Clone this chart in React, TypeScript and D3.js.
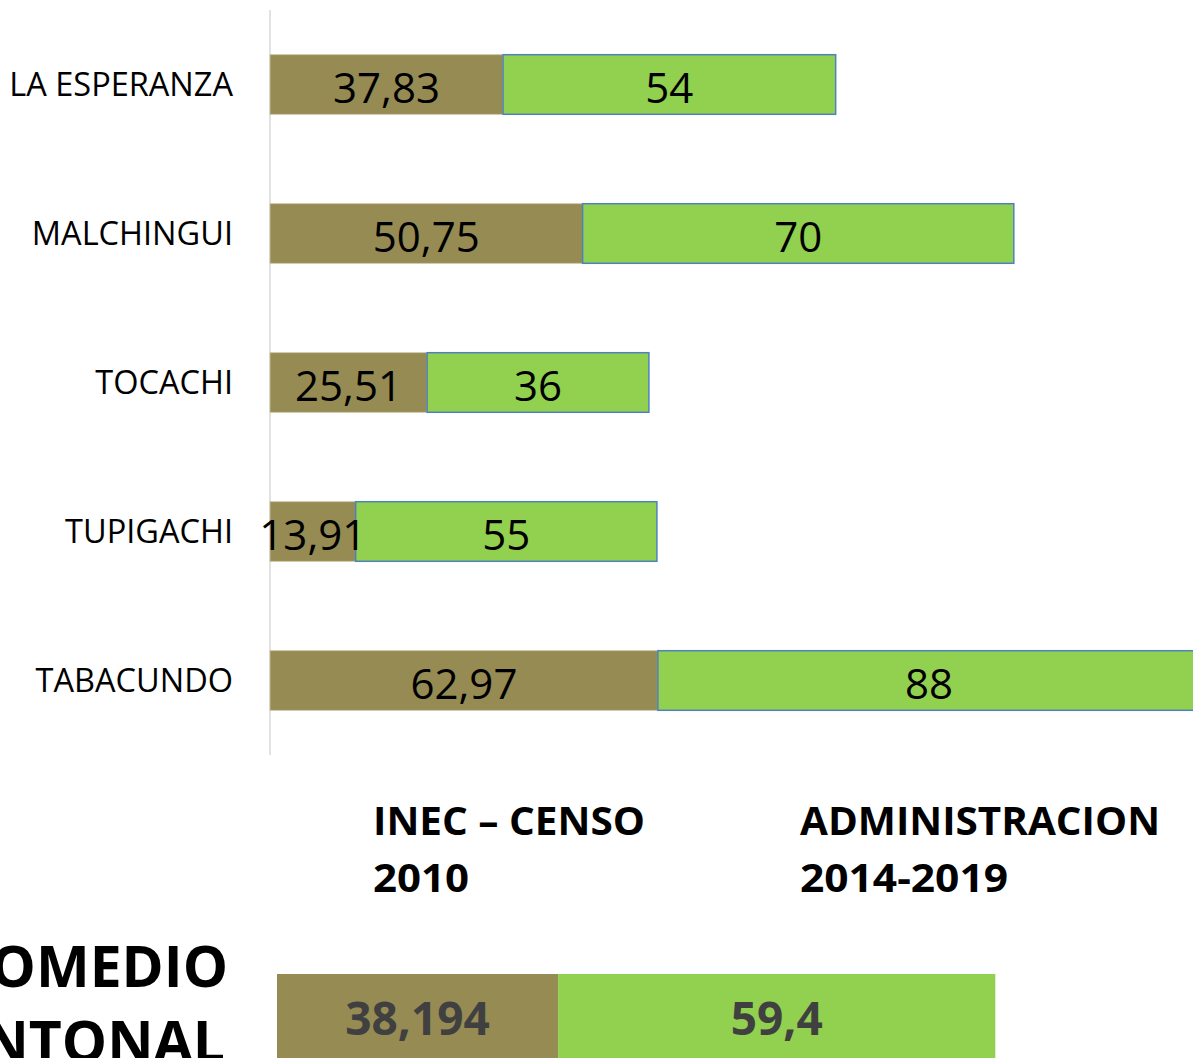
import React from 'react';
import * as d3 from 'd3';

// parroquias y valores
const categories = ['LA ESPERANZA', 'MALCHINGUI', 'TOCACHI', 'TUPIGACHI', 'TABACUNDO'];
const censo2010 = [37.83, 50.75, 25.51, 13.91, 62.97];
const admin2019 = [54, 70, 36, 48.9, 88];
const adminLabels = ['54', '70', '36', '55', '88'];
const seriesNames = [['INEC – CENSO', '2010'], ['ADMINISTRACION', '2014-2019']];
const promedio = [38.194, 59.4];
const promedioTitle = ['PROMEDIO', 'CANTONAL'];

const W = 1193;
const H = 1058;
const BROWN = '#958B53';
const GREEN = '#92D050';
const FONT = '"Open Sans", "Noto Sans", sans-serif';

const fmt = (v: number) => String(v).replace('.', ',');

export default function App() {
    const x = d3.scaleLinear().domain([0, 100]).range([270, 886]);
    const y = d3.scaleBand<string>().domain(categories).range([10, 755]).paddingInner(0.6).paddingOuter(0.3);
    const bw = y.bandwidth();

    // barra del promedio, otra escala
    const x2 = d3.scaleLinear().domain([0, 100]).range([277, 1013]);
    const pTop = 974;

    return (
        <svg
            width={W}
            height={H}
            style={{ position: 'absolute', left: 0, top: 0, background: '#fff', fontFamily: FONT }}
        >
            <line x1={270} x2={270} y1={10} y2={755} stroke="#d9d9d9" strokeWidth={1.5} />

            {categories.map((c, i) => {
                const yy = y(c) as number;
                const cy = yy + bw / 2;
                const x0 = x(0);
                const x1 = x(censo2010[i]);
                const x2e = x(censo2010[i] + admin2019[i]);
                return (
                    <g key={c}>
                        <text x={233} y={cy} dy="0.36em" textAnchor="end" fontSize={32.5} fill="#000">
                            {c}
                        </text>
                        <rect x={x0} y={yy} width={x1 - x0} height={bw} fill={BROWN} stroke="#c9c3a2" strokeWidth={0.8} />
                        <rect x={x1} y={yy} width={x2e - x1} height={bw} fill={GREEN} stroke="#4F81BD" strokeWidth={1.5} />
                        <text x={(x0 + x1) / 2} y={cy} dy="0.44em" textAnchor="middle" fontSize={42} fill="#000">
                            {fmt(censo2010[i])}
                        </text>
                        <text x={(x1 + x2e) / 2} y={cy} dy="0.44em" textAnchor="middle" fontSize={42} fill="#000">
                            {adminLabels[i]}
                        </text>
                    </g>
                );
            })}

            {/* leyenda */}
            {seriesNames.map((s, i) => (
                <g key={s[0]} fontWeight="bold" fontSize={40} fill="#000">
                    <text x={i === 0 ? 373 : 800} y={835} textLength={i === 0 ? 272 : 360} lengthAdjust="spacingAndGlyphs">
                        {s[0]}
                    </text>
                    <text x={i === 0 ? 373 : 800} y={892} textLength={i === 0 ? 96 : 208} lengthAdjust="spacingAndGlyphs">
                        {s[1]}
                    </text>
                </g>
            ))}

            <text x={228} y={987} textAnchor="end" fontWeight="bold" fontSize={57} fill="#000">
                {promedioTitle[0]}
            </text>
            <text x={225} y={1062} textAnchor="end" fontWeight="bold" fontSize={57} fill="#000">
                {promedioTitle[1]}
            </text>

            <rect x={x2(0)} y={pTop} width={x2(promedio[0]) - x2(0)} height={100} fill={BROWN} />
            <rect
                x={x2(promedio[0])}
                y={pTop}
                width={x2(promedio[0] + promedio[1]) - x2(promedio[0])}
                height={100}
                fill={GREEN}
            />
            <text
                x={(x2(0) + x2(promedio[0])) / 2}
                y={1035}
                textAnchor="middle"
                fontWeight="bold"
                fontSize={46}
                fill="#404040"
            >
                {fmt(promedio[0])}
            </text>
            <text
                x={(x2(promedio[0]) + x2(promedio[0] + promedio[1])) / 2}
                y={1035}
                textAnchor="middle"
                fontWeight="bold"
                fontSize={46}
                fill="#404040"
            >
                {fmt(promedio[1])}
            </text>
        </svg>
    );
}
